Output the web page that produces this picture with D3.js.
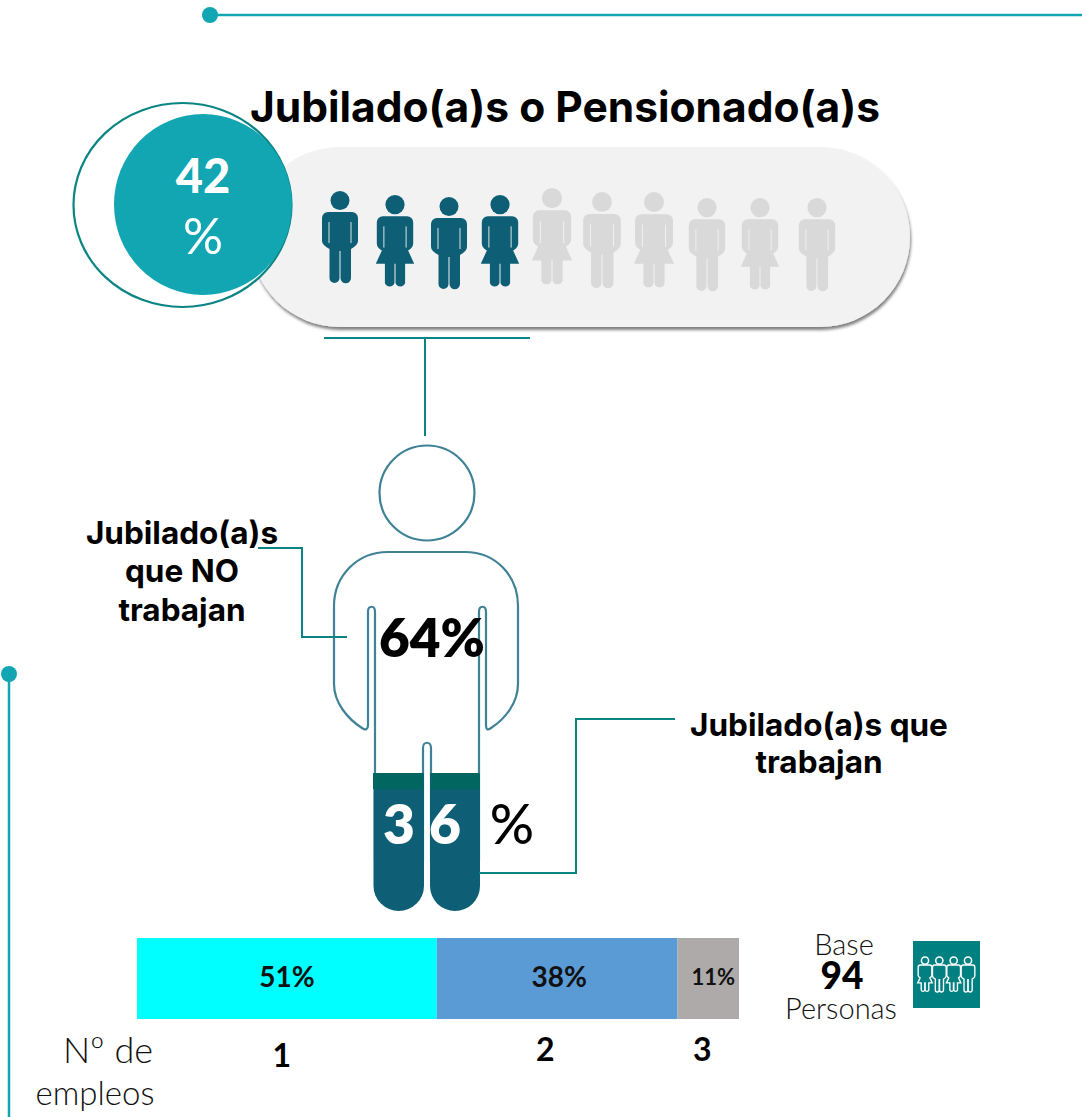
<!DOCTYPE html>
<html>
<head>
<meta charset="utf-8">
<script src="https://cdn.jsdelivr.net/npm/d3@7"></script>
<style>
  html, body { margin: 0; padding: 0; background: #fff; }
  svg { display: block; }
  text { font-family: Lato, "Open Sans", sans-serif; }
  text.ancho { font-family: Inter, "Open Sans", sans-serif; }
</style>
</head>
<body>
<svg id="chart" width="1082" height="1117"></svg>
<script>
// Data
const tituloTexto = 'Jubilado(a)s o Pensionado(a)s';
const pctJubilados = 42;
const generos = ['h', 'm', 'h', 'm', 'm', 'h', 'm', 'h', 'm', 'h'];
const personasResaltadas = 4;
const pctNoTrabajan = 64;
const pctTrabajan = 36;
const empleosCategorias = ['1', '2', '3'];
// bar lengths as drawn in the reference (they differ a little from the printed labels)
const empleosLargos = [49.8, 40, 10.2];
const empleosEtiquetas = ['51%', '38%', '11%'];
const empleosColores = ['#00ffff', '#5b9bd5', '#aeaaaa'];
const basePersonas = 94;
const iconoGeneros = ['m', 'h', 'm', 'h'];

// Colours
const teal = '#11a6b2', tealOscuro = '#0b8484', azul = '#0e5f75', gris = '#d9d9d9';

// Pictogram layout, each figure sits a bit off the row in the original
const iconoDx = [0, 2, 3, 1, 0, -3, -4, -4, -4, 0];
const iconoTop = [191, 195, 197, 195, 188, 192, 192, 198, 198, 198];
const iconoBottom = [283, 288, 289, 288, 286, 288, 289, 291, 291, 291];

const svg = d3.select('#chart');

const shapes = {
  h: 'M-12 21H12A6 6 0 0 1 18 27V50Q18 54 11 58V87A5 5 0 0 1 .5 87V60H-.5V87A5 5 0 0 1-10.5 87V58Q-18 54-18 50V27A6 6 0 0 1-12 21Z',
  m: 'M-12 21H12A6 6 0 0 1 18 27V48Q18 52 13 55L19 68H10V87A5 5 0 0 1 .5 87V68H-.5V87A5 5 0 0 1-10 87V68H-19L-13 55Q-18 52-18 48V27A6 6 0 0 1-12 21Z'
};

const defs = svg.append('defs');
const sombra = defs.append('filter').attr('id', 'sombra')
  .attr('x', '-5%').attr('y', '-10%').attr('width', '110%').attr('height', '125%');
sombra.append('feDropShadow').attr('dx', 1).attr('dy', 3).attr('stdDeviation', 1.8)
  .attr('flood-color', '#000').attr('flood-opacity', 0.5);

// Top and left decoration lines
svg.append('line').attr('x1', 210).attr('x2', 1082).attr('y1', 15).attr('y2', 15)
  .attr('stroke', teal).attr('stroke-width', 2.5);
svg.append('circle').attr('cx', 210).attr('cy', 15).attr('r', 8).attr('fill', teal);
svg.append('line').attr('x1', 9).attr('x2', 9).attr('y1', 674).attr('y2', 1117)
  .attr('stroke', teal).attr('stroke-width', 2.5);
svg.append('circle').attr('cx', 9).attr('cy', 674).attr('r', 8).attr('fill', teal);

// Grey pill with the ten figures
svg.append('rect').attr('x', 250).attr('y', 147).attr('width', 660).attr('height', 180)
  .attr('rx', 90).attr('fill', '#f2f2f2').attr('filter', 'url(#sombra)');

svg.append('ellipse').attr('cx', 182.5).attr('cy', 205).attr('rx', 109).attr('ry', 102)
  .attr('fill', '#fff').attr('stroke', tealOscuro).attr('stroke-width', 2.2);
svg.append('ellipse').attr('cx', 203).attr('cy', 204.5).attr('rx', 89).attr('ry', 90.5)
  .attr('fill', teal);

svg.append('text').attr('class', 'ancho').attr('x', 565).attr('y', 122).attr('text-anchor', 'middle')
  .attr('font-size', 42.5).attr('font-weight', 700).attr('fill', '#000').text(tituloTexto);

svg.append('text').attr('x', 203).attr('y', 193).attr('text-anchor', 'middle')
  .attr('font-size', 47).attr('font-weight', 900).attr('fill', '#fff').text(pctJubilados);
svg.append('text').attr('x', 203).attr('y', 254).attr('text-anchor', 'middle')
  .attr('font-size', 50).attr('font-weight', 400).attr('fill', '#fff').text('%');

const xIcono = d3.scaleLinear().domain([0, generos.length - 1]).range([340, 817]);
const figuras = svg.append('g').selectAll('g').data(generos).join('g')
  .attr('transform', (d, i) => {
    const k = (iconoBottom[i] - iconoTop[i]) / 92;
    return `translate(${xIcono(i) + iconoDx[i]},${iconoTop[i]}) scale(${k})`;
  })
  .attr('fill', (d, i) => i < personasResaltadas ? azul : gris);
figuras.append('circle').attr('cy', 9.5).attr('r', 9.5);
figuras.append('path').attr('d', d => shapes[d]);
figuras.append('path').attr('d', 'M-11 31V52M11 31V52').attr('fill', 'none')
  .attr('stroke', '#f2f2f2').attr('stroke-width', 0.9);

// Connector from the pill to the big figure
const lineaTeal = (d) => svg.append('path').attr('d', d).attr('fill', 'none')
  .attr('stroke', tealOscuro).attr('stroke-width', 2);
lineaTeal('M324 338H530M425 338V436');

// Big outlined figure
const contorno = '#3f8296';
svg.append('circle').attr('cx', 427).attr('cy', 493).attr('r', 47.5)
  .attr('fill', '#fff').attr('stroke', contorno).attr('stroke-width', 2.2);
svg.append('path')
  .attr('d', 'M388 552H465C496 552 518 576 518 606V684C518 703 505 719 491 728C487 731 486 729 486 725V612C486 605 479 605 479 612V860H431V748C431 741 423 741 423 748V860H375V612C375 605 368 605 368 612V725C368 729 366 731 362 728C348 719 334 703 334 684V606C334 576 357 552 388 552Z')
  .attr('fill', '#fff').attr('stroke', contorno).attr('stroke-width', 2.2);

// Legs filled up to the share of people who work
const yNivel = d3.scaleLinear().domain([0, 100]).range([911, 528]);
const top36 = yNivel(pctTrabajan);
const pierna = (x0, x1) => {
  const r = (x1 - x0) / 2;
  return `M${x0} ${top36}H${x1}V${911 - r}A${r} ${r} 0 0 1 ${x0} ${911 - r}Z`;
};
svg.selectAll('path.pierna').data([[373.5, 424], [430, 480]]).join('path')
  .attr('class', 'pierna').attr('d', d => pierna(d[0], d[1])).attr('fill', azul);
svg.selectAll('rect.banda').data([[373, 423], [431, 480]]).join('rect')
  .attr('class', 'banda').attr('x', d => d[0]).attr('y', top36)
  .attr('width', d => d[1] - d[0]).attr('height', 16).attr('fill', '#00665f');

svg.append('text').attr('x', 432).attr('y', 657).attr('text-anchor', 'middle')
  .attr('font-size', 53).attr('font-weight', 800).attr('fill', '#000').text(pctNoTrabajan + '%');
const pct36 = String(pctTrabajan);
svg.append('text').attr('x', 399).attr('y', 844).attr('text-anchor', 'middle')
  .attr('font-size', 55).attr('font-weight', 800).attr('fill', '#fff').text(pct36[0]);
svg.append('text').attr('x', 445).attr('y', 844).attr('text-anchor', 'middle')
  .attr('font-size', 55).attr('font-weight', 800).attr('fill', '#fff').text(pct36[1]);
svg.append('text').attr('x', 512).attr('y', 844).attr('text-anchor', 'middle')
  .attr('font-size', 55).attr('font-weight', 500).attr('fill', '#000').text('%');

// Callouts
lineaTeal('M258 548H302V637H347');
lineaTeal('M675 719H576V873H479');
const bloque = (x, ys, lines) => lines.forEach((t, i) => {
  svg.append('text').attr('class', 'ancho').attr('x', x).attr('y', ys[i]).attr('text-anchor', 'middle')
    .attr('font-size', 31.5).attr('font-weight', 700).attr('fill', '#000').text(t);
});
bloque(182, [544, 582, 621], ['Jubilado(a)s', 'que NO', 'trabajan']);
bloque(819, [736, 773], ['Jubilado(a)s que', 'trabajan']);

// Stacked bar, number of jobs
const x = d3.scaleLinear().domain([0, d3.sum(empleosLargos)]).range([137, 739]);
const acumulado = [0, ...d3.cumsum(empleosLargos)];
const barra = svg.append('g').selectAll('g').data(empleosLargos).join('g');
barra.append('rect')
  .attr('x', (d, i) => x(acumulado[i]))
  .attr('width', (d, i) => x(acumulado[i + 1]) - x(acumulado[i]))
  .attr('y', 938).attr('height', 81)
  .attr('fill', (d, i) => empleosColores[i]);
const ajusteEtiqueta = [0, 2, 5];
barra.append('text')
  .attr('x', (d, i) => (x(acumulado[i]) + x(acumulado[i + 1])) / 2 + ajusteEtiqueta[i])
  .attr('y', (d, i) => i === 2 ? 985 : 987)
  .attr('text-anchor', 'middle')
  .attr('font-size', (d, i) => i === 2 ? 22 : 28)
  .attr('font-weight', 700).attr('fill', '#111')
  .text((d, i) => empleosEtiquetas[i]);

const ajusteCategoria = [-5, -12, -6];
const altoCategoria = [1067, 1061, 1061];
svg.selectAll('text.cat').data(empleosCategorias).join('text')
  .attr('class', 'cat')
  .attr('x', (d, i) => (x(acumulado[i]) + x(acumulado[i + 1])) / 2 + ajusteCategoria[i])
  .attr('y', (d, i) => altoCategoria[i])
  .attr('text-anchor', 'middle').attr('font-size', 32).attr('font-weight', 700).attr('fill', '#000')
  .text(d => d);

svg.append('text').attr('x', 108).attr('y', 1063).attr('text-anchor', 'middle')
  .attr('font-size', 36).attr('font-weight', 300).attr('fill', '#111').text('Nº de');
svg.append('text').attr('x', 95).attr('y', 1105).attr('text-anchor', 'middle')
  .attr('font-size', 33).attr('font-weight', 300).attr('fill', '#111').text('empleos');

// Base
svg.append('text').attr('x', 844).attr('y', 955).attr('text-anchor', 'middle')
  .attr('font-size', 29).attr('font-weight', 300).attr('fill', '#111').text('Base');
svg.append('text').attr('x', 842).attr('y', 989).attr('text-anchor', 'middle')
  .attr('font-size', 37).attr('font-weight', 900).attr('fill', '#000').text(basePersonas);
svg.append('text').attr('x', 841).attr('y', 1019).attr('text-anchor', 'middle')
  .attr('font-size', 29).attr('font-weight', 300).attr('fill', '#111').text('Personas');

svg.append('rect').attr('x', 913).attr('y', 941).attr('width', 67).attr('height', 67).attr('fill', '#008080');
const xMini = d3.scaleLinear().domain([0, iconoGeneros.length - 1]).range([925, 968]);
const mini = svg.append('g').selectAll('g').data(iconoGeneros).join('g')
  .attr('transform', (d, i) => `translate(${xMini(i)},957) scale(0.38)`)
  .attr('fill', 'none').attr('stroke', '#fff');
mini.append('circle').attr('cy', 9.5).attr('r', 9.5).attr('stroke-width', 4);
mini.append('path').attr('d', d => shapes[d]).attr('stroke-width', 3.6);
</script>
</body>
</html>
